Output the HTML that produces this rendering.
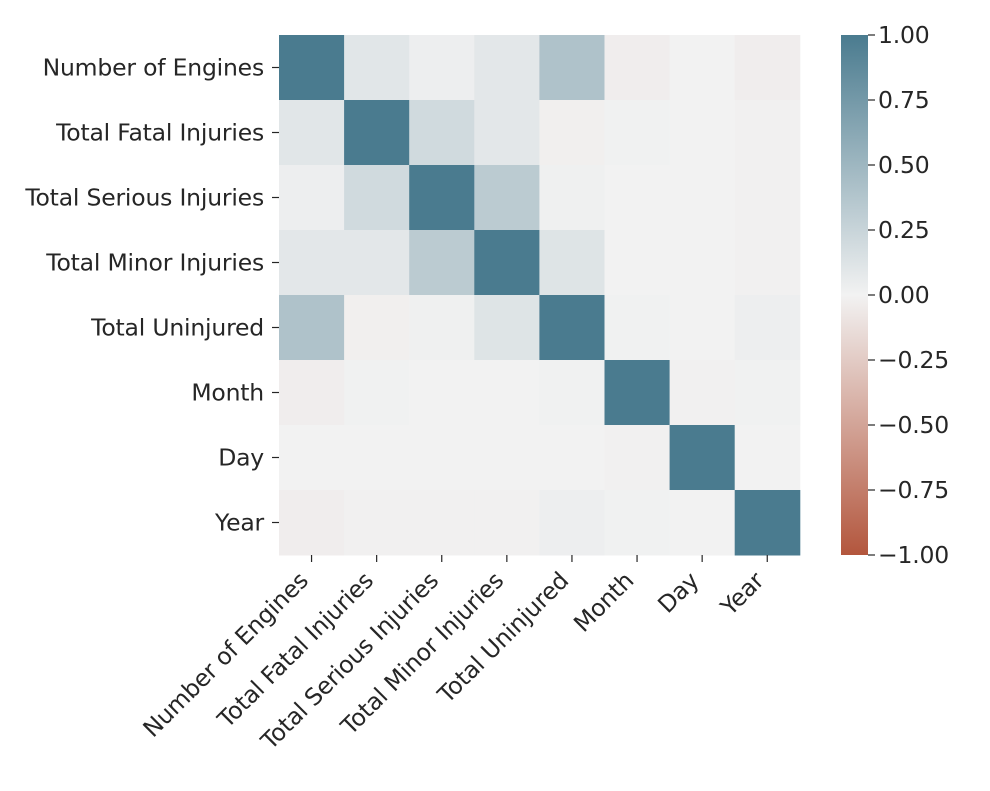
<!DOCTYPE html>
<html><head><meta charset="utf-8"><style>
body{margin:0;background:#fff;}
svg text{font-family:"DejaVu Sans","Liberation Sans",sans-serif;font-size:23.5px;fill:#262626;letter-spacing:-0.2px;}
</style></head><body>
<svg id="chart" width="990" height="786" xmlns="http://www.w3.org/2000/svg">
<defs><linearGradient id="cbg" x1="0" y1="1" x2="0" y2="0">
<stop offset="0" stop-color="#b3563d"/><stop offset="0.5" stop-color="#f2f2f2"/><stop offset="1" stop-color="#4a7b8f"/>
</linearGradient></defs>
<g id="cells"></g>
<g id="labels"></g>
<rect x="841" y="35" width="27" height="520" fill="url(#cbg)"/>
<g id="cbar"></g>
</svg>
<script>
const categories = ["Number of Engines","Total Fatal Injuries","Total Serious Injuries","Total Minor Injuries","Total Uninjured","Month","Day","Year"];
const row0 = [1, 0.10, 0.03, 0.09, 0.40, -0.03, 0.00, -0.03];
const row1 = [0.10, 1, 0.20, 0.09, -0.02, 0.01, 0.00, -0.01];
const row2 = [0.03, 0.20, 1, 0.33, 0.02, 0.00, 0.00, -0.01];
const row3 = [0.09, 0.09, 0.33, 1, 0.12, 0.00, 0.00, -0.01];
const row4 = [0.40, -0.02, 0.02, 0.12, 1, 0.01, 0.00, 0.03];
const row5 = [-0.03, 0.01, 0.00, 0.00, 0.01, 1, -0.01, 0.01];
const row6 = [0.00, 0.00, 0.00, 0.00, 0.00, -0.01, 1, 0.00];
const row7 = [-0.03, -0.01, -0.01, -0.01, 0.03, 0.01, 0.00, 1];
const matrix = [row0,row1,row2,row3,row4,row5,row6,row7];
const cbTicks = [1, 0.75, 0.5, 0.25, 0, -0.25, -0.5, -0.75, -1];

const X0=279, Y0=35, CW=65.1, CH=65;
const NS="http://www.w3.org/2000/svg";
const xPos=i=>X0+i*CW, yPos=i=>Y0+i*CH;
const cbY=v=>35+(1-v)/2*520;
function color(v){
  const neg=[179,86,61], mid=[242,242,242], pos=[74,123,143];
  const t=Math.min(1,Math.abs(v)), e=v>=0?pos:neg;
  return `rgb(${mid.map((m,i)=>Math.round(m+(e[i]-m)*t)).join(',')})`;
}
function mk(tag,attrs,parent){const el=document.createElementNS(NS,tag);for(const k in attrs)el.setAttribute(k,attrs[k]);parent.appendChild(el);return el;}
const cells=document.getElementById('cells'), labels=document.getElementById('labels'), cbar=document.getElementById('cbar');
matrix.forEach((row,r)=>row.forEach((v,c)=>{
  const el=mk('rect',{x:xPos(c),y:yPos(r),width:CW+0.5,height:CH+0.5,fill:color(v)},cells);
  
  
}));
categories.forEach((name,i)=>{
  const cy=yPos(i)+CH/2;
  const t=mk('line',{x1:272,x2:279,y1:cy,y2:cy,stroke:'#262626','stroke-width':1.2},labels);
  
  
  const yl=mk('text',{x:264,y:cy+8,'text-anchor':'end'},labels);yl.textContent=name;
  
  
  const cx=xPos(i)+CW/2;
  const xt=mk('line',{x1:cx,x2:cx,y1:555,y2:562,stroke:'#262626','stroke-width':1.2},labels);
  
  
  const xl=mk('text',{x:cx-2,y:582,'text-anchor':'end',transform:`rotate(-45 ${cx-2} 582)`},labels);xl.textContent=name;
  
  
});
cbTicks.forEach(v=>{
  const y=cbY(v);
  const l=mk('line',{x1:868,x2:875,y1:y,y2:y,stroke:'#262626','stroke-width':1.2},cbar);
  
  
  const t=mk('text',{x:878,y:y+8},cbar);t.textContent=(v<0?'\u2212':'')+Math.abs(v).toFixed(2);
  
  
});
</script>
</body></html>
